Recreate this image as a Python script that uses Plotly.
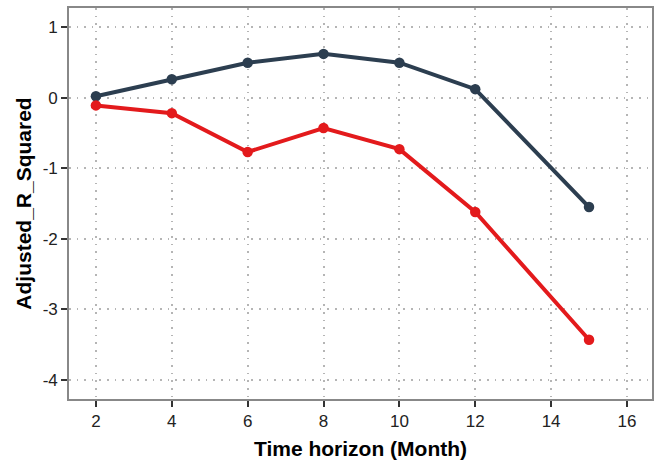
import plotly.graph_objects as go

months = [2, 4, 6, 8, 10, 12, 15]
series_dark = [0.02, 0.26, 0.495, 0.62, 0.495, 0.12, -1.55]
series_red = [-0.11, -0.22, -0.77, -0.43, -0.73, -1.62, -3.43]
x_ticks = [2, 4, 6, 8, 10, 12, 14, 16]
y_ticks = [-4, -3, -2, -1, 0, 1]
y_tick_text = ["-4", "-3", "-2", "-1", "0", "1"]

fig = go.Figure()
fig.add_trace(go.Scatter(x=months, y=series_dark, mode="lines+markers",
                         line=dict(color="#2C3E50", width=4),
                         marker=dict(color="#2C3E50", size=10.5), showlegend=False))
fig.add_trace(go.Scatter(x=months, y=series_red, mode="lines+markers",
                         line=dict(color="#E31A1C", width=4),
                         marker=dict(color="#E31A1C", size=10.5), showlegend=False))

axis_common = dict(
    showgrid=True, gridcolor="#B5B5B5", griddash="1.6px,6px", gridwidth=1.6,
    showline=True, linecolor="#888888", linewidth=1.6, mirror=True,
    ticks="outside", ticklen=6, tickwidth=2, tickcolor="#333333",
    tickfont=dict(family="Liberation Sans, Arial", size=17, color="#222222"),
    zeroline=False,
)

fig.update_layout(
    width=660, height=468,
    margin=dict(l=69, r=7, t=6, b=69),
    plot_bgcolor="white", paper_bgcolor="white",
    xaxis=dict(range=[1.29, 16.66], tickvals=x_ticks,
               title=dict(text="<b>Time horizon (Month)</b>", standoff=11,
                          font=dict(family="Liberation Sans, Arial", size=21, color="black")),
               **axis_common),
    yaxis=dict(range=[-4.27, 1.27], tickvals=y_ticks, ticktext=y_tick_text,
               title=dict(text="<b>Adjusted_R_Squared</b>", standoff=5,
                          font=dict(family="Liberation Sans, Arial", size=21, color="black")),
               **axis_common),
)

fig.write_html("out.html")
